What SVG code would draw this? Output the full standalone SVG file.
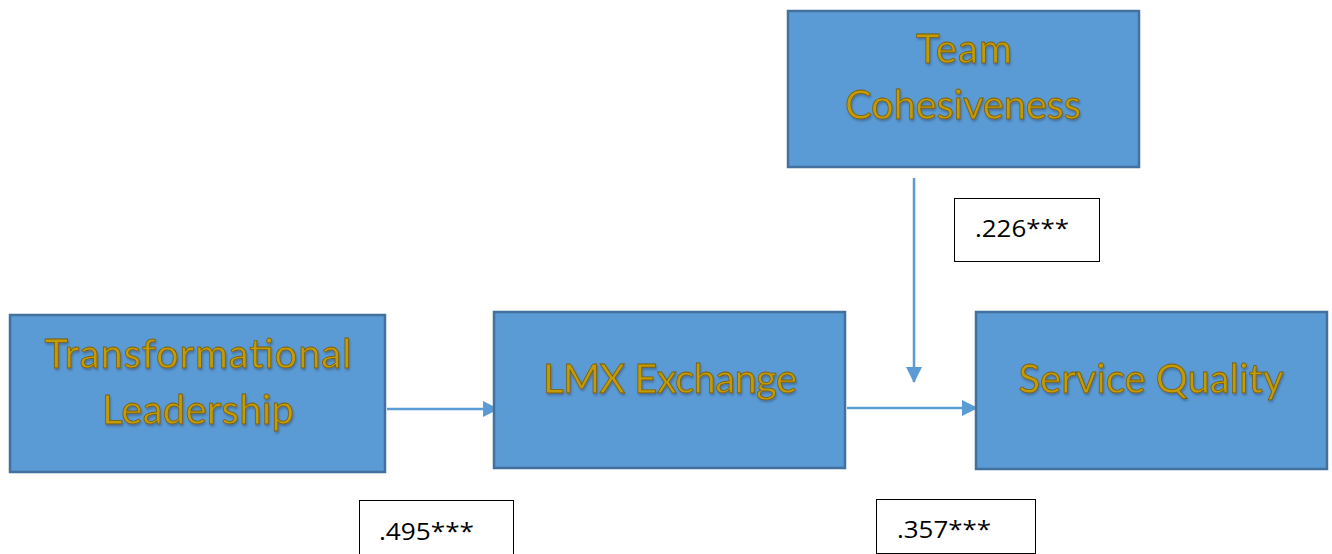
<svg xmlns="http://www.w3.org/2000/svg" width="1332" height="554" viewBox="0 0 1332 554">
<style>
.box{fill:#5B9BD5;stroke:#41719C;stroke-width:2.5}
.t{font-family:Lato,"Open Sans","Liberation Sans",sans-serif;font-size:40px;fill:#C49B00;stroke:#7A5E00;stroke-width:0.8;text-anchor:middle;filter:url(#sh)}
.lbl{fill:#fff;stroke:#000;stroke-width:1}
.n{font-family:"Open Sans","Liberation Sans",sans-serif;font-size:23px;fill:#000}
</style>
<defs>
<filter id="sh" x="-5%" y="-20%" width="110%" height="150%">
<feDropShadow dx="1" dy="2" stdDeviation="0.8" flood-color="#2F4F6F" flood-opacity="0.5"/>
</filter>
<marker id="ah2" markerWidth="16" markerHeight="16" refX="15" refY="8" orient="auto" markerUnits="userSpaceOnUse" viewBox="0 0 16 16">
<path d="M0,0 L16,8 L0,16 z" fill="#5B9BD5"/>
</marker>
</defs>
<g id="connectors">
<line x1="387" y1="409" x2="498" y2="409" stroke="#5B9BD5" stroke-width="2.5" marker-end="url(#ah2)"/>
<line x1="847" y1="408" x2="977" y2="408" stroke="#5B9BD5" stroke-width="2.5" marker-end="url(#ah2)"/>
<line x1="914" y1="178" x2="914" y2="382" stroke="#5B9BD5" stroke-width="2.5" marker-end="url(#ah2)"/>
</g>
<g id="transformational">
<rect class="box" x="10" y="315" width="375" height="157"/>
<text class="t" x="198" y="368" textLength="307" lengthAdjust="spacing">Transformational</text>
<text class="t" x="198" y="424" textLength="192" lengthAdjust="spacing">Leadership</text>
</g>
<g id="lmx">
<rect class="box" x="494" y="312" width="351" height="156"/>
<text class="t" x="670" y="393" textLength="254" lengthAdjust="spacing">LMX Exchange</text>
</g>
<g id="team">
<rect class="box" x="788" y="11" width="351" height="156"/>
<text class="t" x="964" y="63" textLength="96" lengthAdjust="spacing">Team</text>
<text class="t" x="963" y="119" textLength="236" lengthAdjust="spacing">Cohesiveness</text>
</g>
<g id="service">
<rect class="box" x="976" y="312" width="351" height="157"/>
<text class="t" x="1151" y="393" textLength="265" lengthAdjust="spacing">Service Quality</text>
</g>
<g id="coef495">
<rect class="lbl" x="359.5" y="500.5" width="154" height="60"/>
<text class="n" x="379" y="540" textLength="95" lengthAdjust="spacingAndGlyphs">.495***</text>
</g>
<g id="coef226">
<rect class="lbl" x="954.5" y="198.5" width="145" height="63"/>
<text class="n" x="975" y="237" textLength="94" lengthAdjust="spacingAndGlyphs">.226***</text>
</g>
<g id="coef357">
<rect class="lbl" x="876.5" y="499.5" width="159" height="54"/>
<text class="n" x="897" y="538" textLength="94" lengthAdjust="spacingAndGlyphs">.357***</text>
</g>
</svg>
